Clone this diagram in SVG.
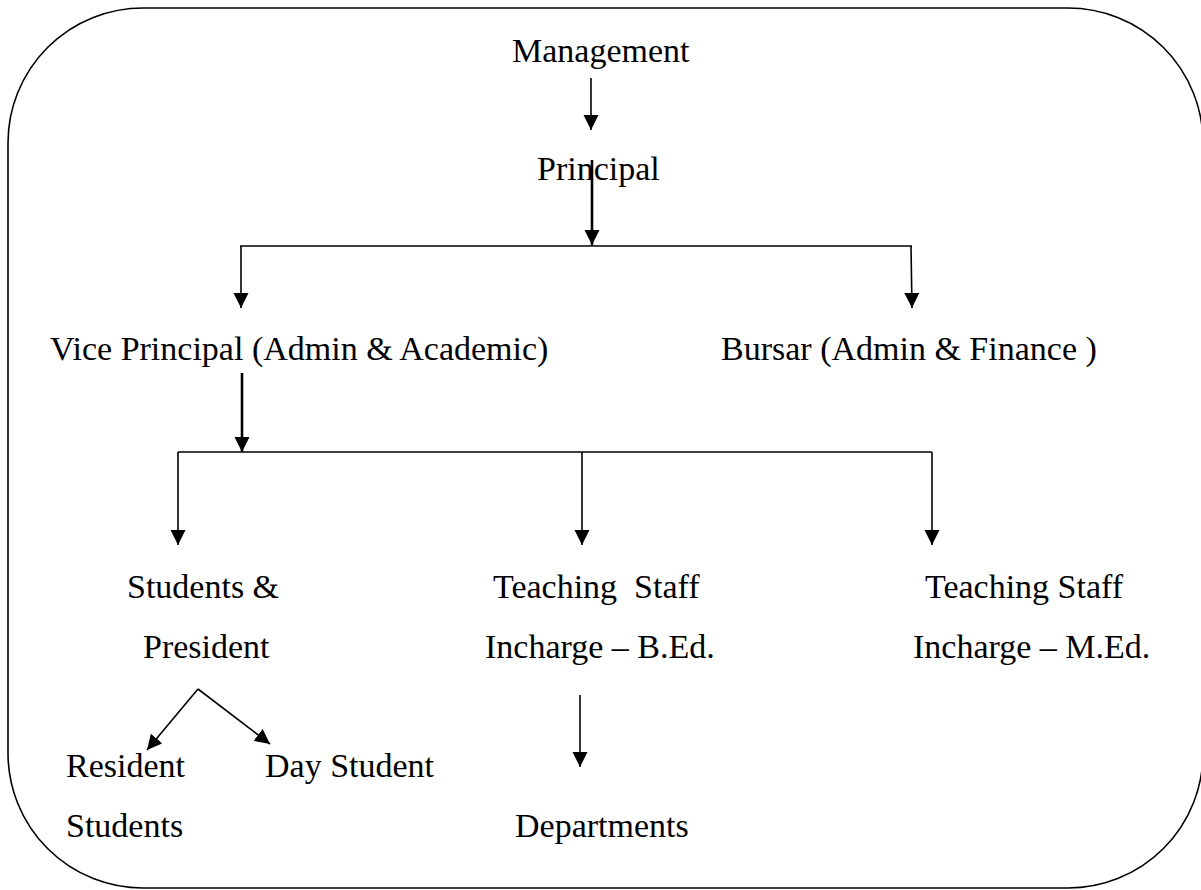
<svg xmlns="http://www.w3.org/2000/svg" width="1201" height="890" viewBox="0 0 1201 890">
  <style>
    .lbl { font-family: "Liberation Serif", "Times New Roman", serif; font-size: 34px; fill: #000; }
    .edge { stroke: #000; stroke-width: 1.6; fill: none; }
    .edge.bold { stroke-width: 2.6; }
    .frame { stroke: #000; stroke-width: 1.6; fill: #fff; }
  </style>
  <defs>
    <marker id="arrow" markerUnits="userSpaceOnUse" markerWidth="16" markerHeight="16" refX="15" refY="7.5" orient="auto">
      <path d="M0,0 L15,7.5 L0,15 z" fill="#000"/>
    </marker>
  </defs>

  <!-- outer rounded frame -->
  <rect class="frame" x="8" y="8" width="1195" height="880" rx="135" ry="135"/>

  <!-- connectors -->
  <g id="connectors">
    <line class="edge" x1="591" y1="78" x2="591" y2="130" marker-end="url(#arrow)"/>
    <line class="edge bold" x1="592" y1="160" x2="592" y2="245" marker-end="url(#arrow)"/>
    <line class="edge" x1="240" y1="246" x2="912" y2="246"/>
    <line class="edge" x1="241" y1="246" x2="241" y2="308" marker-end="url(#arrow)"/>
    <line class="edge" x1="911" y1="246" x2="912" y2="308" marker-end="url(#arrow)"/>
    <line class="edge bold" x1="242" y1="373" x2="242" y2="452" marker-end="url(#arrow)"/>
    <line class="edge" x1="178" y1="452" x2="932" y2="452"/>
    <line class="edge" x1="178" y1="452" x2="178" y2="545" marker-end="url(#arrow)"/>
    <line class="edge" x1="582" y1="452" x2="582" y2="545" marker-end="url(#arrow)"/>
    <line class="edge" x1="932" y1="452" x2="932" y2="545" marker-end="url(#arrow)"/>
    <line class="edge" x1="198" y1="689" x2="147" y2="750" marker-end="url(#arrow)"/>
    <line class="edge" x1="198" y1="689" x2="270" y2="744" marker-end="url(#arrow)"/>
    <line class="edge" x1="580" y1="695" x2="580" y2="767" marker-end="url(#arrow)"/>
  </g>

  <g id="management"><text class="lbl" x="512" y="62">Management</text></g>
  <g id="principal"><text class="lbl" x="537" y="180">Principal</text></g>
  <g id="vice-principal"><text class="lbl" x="50" y="360">Vice Principal (Admin &amp; Academic)</text></g>
  <g id="bursar"><text class="lbl" x="721" y="360">Bursar (Admin &amp; Finance )</text></g>
  <g id="students-president">
    <text class="lbl" x="127" y="598">Students &amp;</text>
    <text class="lbl" x="143" y="658">President</text>
  </g>
  <g id="staff-bed">
    <text class="lbl" x="493" y="598" xml:space="preserve">Teaching  Staff</text>
    <text class="lbl" x="485" y="658">Incharge – B.Ed.</text>
  </g>
  <g id="staff-med">
    <text class="lbl" x="925" y="598">Teaching Staff</text>
    <text class="lbl" x="913" y="658">Incharge – M.Ed.</text>
  </g>
  <g id="resident-students">
    <text class="lbl" x="66" y="777">Resident</text>
    <text class="lbl" x="66" y="837">Students</text>
  </g>
  <g id="day-student"><text class="lbl" x="265" y="777">Day Student</text></g>
  <g id="departments"><text class="lbl" x="515" y="837">Departments</text></g>
</svg>
